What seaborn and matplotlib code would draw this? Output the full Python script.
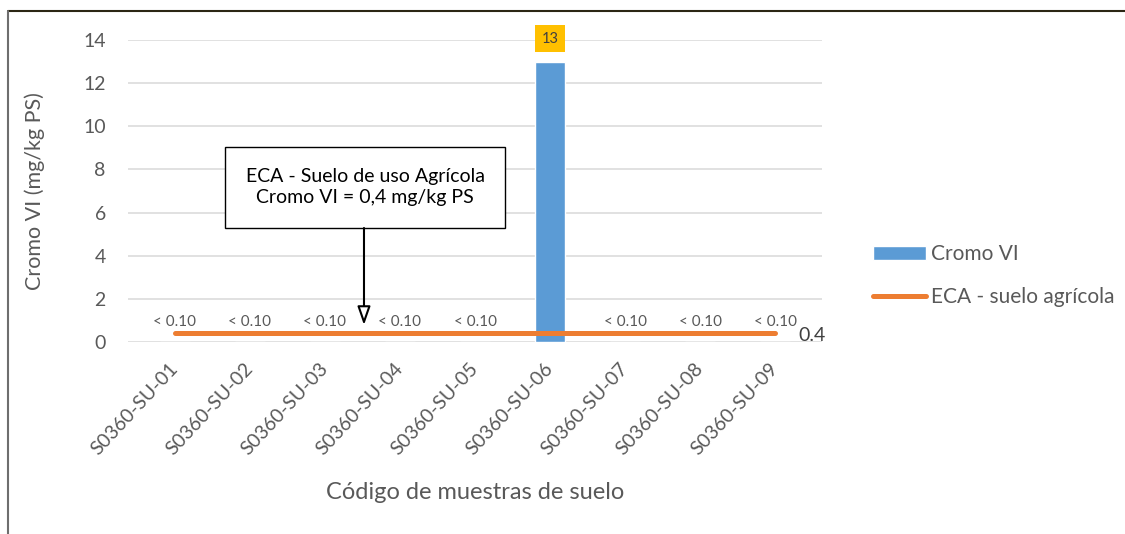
import numpy as np
import pandas as pd
import matplotlib
matplotlib.use("Agg")
import matplotlib.pyplot as plt
from matplotlib.lines import Line2D
from matplotlib.patches import Rectangle
import seaborn as sns

# Soil samples and measured hexavalent chromium (mg/kg dry weight)
samples = ["S0360-SU-01", "S0360-SU-02", "S0360-SU-03", "S0360-SU-04", "S0360-SU-05",
           "S0360-SU-06", "S0360-SU-07", "S0360-SU-08", "S0360-SU-09"]
cromo_vi = [0, 0, 0, 0, 0, 13, 0, 0, 0]          # results below detection limit stored as 0
detection_limit = 0.10
eca_limit = 0.4                                   # agricultural soil quality standard
eca = [eca_limit] * len(samples)
y_ticks = [0, 2, 4, 6, 8, 10, 12, 14]

sns.set_style("white")
plt.rcParams["font.family"] = ["Lato", "DejaVu Sans"]

GREY = "#595959"
BLUE = "#5B9BD5"
ORANGE = "#ED7D31"

fig = plt.figure(figsize=(11.25, 5.34), dpi=100)
ax = fig.add_axes([0.1138, 0.3596, 0.6169, 0.5655])

df = pd.DataFrame({"muestra": samples, "cromo": cromo_vi})
sns.barplot(data=df, x="muestra", y="cromo", color=BLUE, saturation=1, width=0.4,
            label="Cromo VI", ax=ax, zorder=2)
sns.lineplot(x=np.arange(len(samples)), y=eca, color=ORANGE, lw=3.6,
             solid_capstyle="round", label="ECA - suelo agrícola", ax=ax, zorder=3)

# data labels above the bars
for i, v in enumerate(cromo_vi):
    if v < detection_limit:
        ax.annotate(f"< {detection_limit:.2f}", (i, v), xytext=(0, 14.5), textcoords="offset points",
                    ha="center", va="center", fontsize=11, color=GREY, zorder=4)
    else:
        ax.annotate(f"{v:g}", (i, v), xytext=(0, 16.5), textcoords="offset points",
                    ha="center", va="center", fontsize=10.5, color="#404040", zorder=4,
                    bbox=dict(boxstyle="square,pad=0.45", fc="#FFC000", ec="none"))

# value label at the end of the standard line
ax.annotate(f"{eca[-1]:g}", (len(samples) - 1, eca[-1]), xytext=(16.5, -1.5),
            textcoords="offset points", ha="left", va="center", fontsize=14, color="#404040")

ax.set_ylim(0, 14)
ax.set_yticks(y_ticks)
ax.yaxis.grid(True, color="#D9D9D9", lw=1.1)
ax.set_axisbelow(True)
for s in ax.spines.values():
    s.set_visible(False)
ax.tick_params(axis="y", length=0, pad=16, labelsize=14, labelcolor=GREY)
ax.tick_params(axis="x", length=0, pad=17, labelsize=14, labelcolor=GREY)
for lab in ax.get_xticklabels():
    lab.set_rotation(47)
    lab.set_ha("right")
    lab.set_va("center")
    lab.set_rotation_mode("anchor")

ax.set_ylabel("Cromo VI (mg/kg PS)", fontsize=15.5, color=GREY)
ax.yaxis.set_label_coords(-0.12, 0.5)
ax.set_xlabel("Código de muestras de suelo", fontsize=17, color=GREY)
ax.xaxis.label.set_va("center")
ax.xaxis.set_label_coords(0.5, -0.5)

# callout box for the standard
ax.add_patch(Rectangle((0.1398, 0.3775), 0.4034, 0.2682, transform=ax.transAxes,
                       fc="white", ec="black", lw=1.0, zorder=5, clip_on=False))
ax.text(0.3415, 0.513, "ECA - Suelo de uso Agrícola\nCromo VI = 0,4 mg/kg PS",
        transform=ax.transAxes, ha="center", va="center", fontsize=14, color="black",
        linespacing=1.3, zorder=6)
ax.annotate("", xy=(0.340, 0.0563), xycoords="axes fraction",
            xytext=(0.340, 0.3775), textcoords="axes fraction",
            arrowprops=dict(arrowstyle="-|>,head_length=0.8,head_width=0.28",
                            mutation_scale=14, fc="white", ec="black", lw=1.5,
                            shrinkA=0, shrinkB=0), zorder=6)

handles, labels = ax.get_legend_handles_labels()
order = [labels.index("Cromo VI"), labels.index("ECA - suelo agrícola")]
leg = ax.legend([handles[k] for k in order], [labels[k] for k in order],
                loc="center left", bbox_to_anchor=(863 / 1125, 0.484),
                bbox_transform=fig.transFigure, frameon=False, fontsize=15,
                borderpad=0, handletextpad=0.25, handlelength=2.5, handleheight=0.62,
                labelspacing=1.1)
for t in leg.get_texts():
    t.set_color(GREY)

# outer chart frame
fig.add_artist(Line2D([0.0071, 1.0], [0.9803, 0.9803], color="#2b2614", lw=1.5))
fig.add_artist(Line2D([0.0071, 0.0071], [0.0, 0.9803], color="#6e6e6e", lw=1.5))

fig.savefig("out.png", dpi=100)
